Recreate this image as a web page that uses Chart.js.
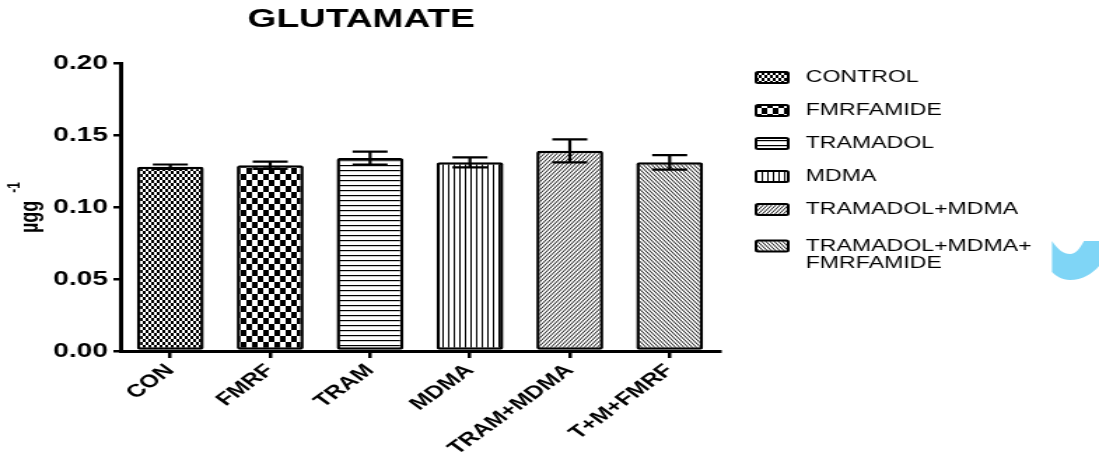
<!DOCTYPE html>
<html>
<head>
<meta charset="utf-8">
<script src="https://cdn.jsdelivr.net/npm/chart.js@4/dist/chart.umd.min.js"></script>
<style>
  html, body { margin: 0; padding: 0; background: #fff; overflow: hidden; }
  #wrap { width: 785px; height: 460px; transform: scaleX(1.4); transform-origin: 0 0; }
  canvas { display: block; }
</style>
</head>
<body>
<div id="wrap"><canvas id="c" width="785" height="460"></canvas></div>
<script>
// Glutamate level per treatment group (mean ± SEM, µg/g)
const categories = ['CON', 'FMRF', 'TRAM', 'MDMA', 'TRAM+MDMA', 'T+M+FMRF'];
const groupNames = [['CONTROL'], ['FMRFAMIDE'], ['TRAMADOL'], ['MDMA'], ['TRAMADOL+MDMA'], ['TRAMADOL+MDMA+', 'FMRFAMIDE']];
const means = [0.128, 0.129, 0.134, 0.131, 0.139, 0.131];
const sems = [0.0015, 0.0025, 0.0045, 0.0035, 0.008, 0.005];
const yTicks = [0.00, 0.05, 0.10, 0.15, 0.20];
const chartTitle = 'GLUTAMATE';

const FONT = '"Liberation Sans", Arial, sans-serif';

// Fill patterns, one per group
function tile(w, h, draw) {
  const c = document.createElement('canvas');
  c.width = w; c.height = h;
  const g = c.getContext('2d');
  g.fillStyle = '#fff';
  g.fillRect(0, 0, w, h);
  g.fillStyle = '#000';
  g.strokeStyle = '#000';
  draw(g, w, h);
  return g.createPattern(c, 'repeat');
}
const ctx0 = document.getElementById('c').getContext('2d');
const patterns = [
  // fine checkerboard
  tile(4, 6, g => { g.fillRect(0, 0, 2, 3); g.fillRect(2, 3, 2, 3); }),
  // coarse checkerboard
  tile(8, 12, g => { g.fillRect(0, 0, 4, 6); g.fillRect(4, 6, 4, 6); }),
  // horizontal lines
  tile(4, 5, g => { g.fillRect(0, 0, 4, 1.2); }),
  // vertical lines
  tile(4, 4, g => { g.fillRect(0, 0, 1, 4); }),
  // forward diagonal
  tile(6, 8, g => {
    g.lineWidth = 0.9;
    for (let k = -2; k <= 2; k++) {
      const x0 = k * 3;
      g.beginPath(); g.moveTo(x0, 8); g.lineTo(x0 + 6, 0); g.stroke();
    }
  }),
  // backward diagonal
  tile(6, 8, g => {
    g.lineWidth = 0.9;
    for (let k = -2; k <= 2; k++) {
      const x0 = k * 3;
      g.beginPath(); g.moveTo(x0, 0); g.lineTo(x0 + 6, 8); g.stroke();
    }
  })
];

// Error bars (mean ± SEM) drawn over each bar
const errorBars = {
  id: 'errorBars',
  afterDatasetsDraw(chart) {
    const ctx = chart.ctx;
    const y = chart.scales.y;
    const meta = chart.getDatasetMeta(0);
    ctx.save();
    ctx.strokeStyle = '#000';
    ctx.lineWidth = 2.2;
    meta.data.forEach((bar, i) => {
      const x = bar.x;
      const hi = y.getPixelForValue(means[i] + sems[i]);
      const lo = y.getPixelForValue(means[i] - sems[i]);
      const half = 12.5;
      ctx.beginPath();
      ctx.moveTo(x, hi); ctx.lineTo(x, lo);
      ctx.moveTo(x - half, hi); ctx.lineTo(x + half, hi);
      ctx.moveTo(x - half, lo); ctx.lineTo(x + half, lo);
      ctx.stroke();
    });
    ctx.restore();
  }
};

// Title, rotated axis unit, legend and the small blue mark on the right
const decorations = {
  id: 'decorations',
  afterDraw(chart) {
    const ctx = chart.ctx;
    ctx.save();
    ctx.fillStyle = '#000';

    // title
    ctx.font = 'bold 26.5px ' + FONT;
    ctx.textAlign = 'center';
    ctx.textBaseline = 'middle';
    ctx.fillText(chartTitle, 258, 20);

    // y-axis unit: µg g^-1
    ctx.save();
    ctx.translate(27, 233);
    ctx.rotate(-Math.PI / 2);
    ctx.textAlign = 'left';
    ctx.textBaseline = 'alphabetic';
    ctx.font = 'bold 18px ' + FONT;
    ctx.fillText('µgg', 0, 0);
    const w = ctx.measureText('µgg').width;
    ctx.font = 'bold 12px ' + FONT;
    ctx.fillText('-1', w + 8, -13);
    ctx.restore();

    // legend
    const rows = [77.5, 110.5, 143.5, 176.5, 209.5, 246];
    ctx.textAlign = 'left';
    ctx.textBaseline = 'middle';
    ctx.font = '16.5px ' + FONT;
    groupNames.forEach((lines, i) => {
      const cy = rows[i];
      ctx.fillStyle = patterns[i];
      ctx.fillRect(540, cy - 5.5, 23, 11);
      ctx.strokeStyle = '#000';
      ctx.lineWidth = 2;
      ctx.beginPath();
      ctx.roundRect(540, cy - 5.5, 23, 11, 1.5);
      ctx.stroke();
      ctx.fillStyle = '#000';
      lines.forEach((t, j) => ctx.fillText(t, 575.5, cy + j * 17.5));
    });

    // blue mark
    ctx.fillStyle = '#7fd5f6';
    ctx.beginPath();
    ctx.moveTo(1052 / 1.4, 241);
    ctx.bezierCurveTo(1058 / 1.4, 250, 1064 / 1.4, 254, 1070 / 1.4, 254);
    ctx.bezierCurveTo(1076 / 1.4, 254, 1080 / 1.4, 248, 1084 / 1.4, 241);
    ctx.lineTo(1099 / 1.4, 241);
    ctx.lineTo(1099 / 1.4, 266);
    ctx.bezierCurveTo(1092 / 1.4, 274, 1082 / 1.4, 280, 1070 / 1.4, 280);
    ctx.bezierCurveTo(1062 / 1.4, 280, 1056 / 1.4, 276, 1052 / 1.4, 272);
    ctx.closePath();
    ctx.fill();

    ctx.restore();
  }
};

new Chart(ctx0, {
  type: 'bar',
  data: {
    labels: categories,
    datasets: [{
      data: means,
      backgroundColor: patterns,
      borderColor: '#000',
      borderWidth: 2.5,
      borderRadius: 2,
      borderSkipped: false,
      barPercentage: 0.67,
      categoryPercentage: 1.0
    }]
  },
  options: {
    responsive: false,
    animation: false,
    layout: { padding: { top: 63, right: 271, bottom: 0, left: 0 } },
    plugins: { legend: { display: false }, title: { display: false }, tooltip: { enabled: false } },
    scales: {
      x: {
        offset: true,
        afterFit: s => { s.height = 109; },
        border: { display: true, color: '#000', width: 3 },
        grid: { offset: false, drawOnChartArea: false, drawTicks: true, tickLength: 7, color: '#000', lineWidth: 2.5 },
        ticks: {
          color: '#000',
          font: { family: FONT, weight: 'bold', size: 18 },
          maxRotation: 45, minRotation: 45, padding: 2, autoSkip: false
        }
      },
      y: {
        min: 0, max: 0.2,
        afterFit: s => { s.width = 86; },
        afterBuildTicks: s => { s.ticks = yTicks.map(v => ({ value: v })); },
        border: { display: true, color: '#000', width: 3 },
        grid: { drawOnChartArea: false, drawTicks: true, tickLength: 5, color: '#000', lineWidth: 2.5 },
        ticks: {
          color: '#000',
          font: { family: FONT, weight: 'bold', size: 20 },
          padding: 4,
          callback: v => Number(v).toFixed(2)
        }
      }
    }
  },
  plugins: [errorBars, decorations]
});
</script>
</body>
</html>
